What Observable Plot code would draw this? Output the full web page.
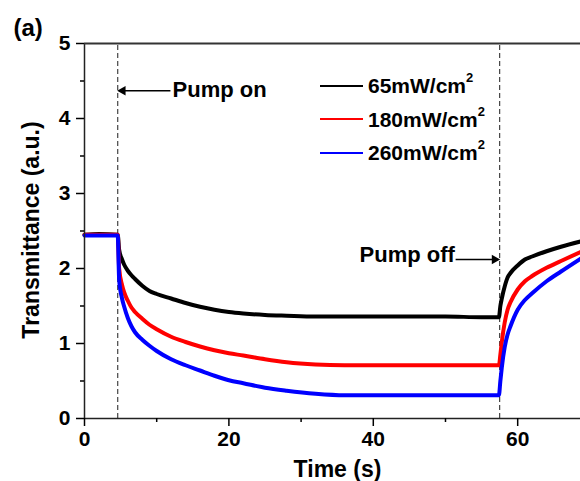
<!DOCTYPE html>
<html>
<head>
<meta charset="utf-8">
<script src="https://cdn.jsdelivr.net/npm/d3@7"></script>
<script src="https://cdn.jsdelivr.net/npm/@observablehq/plot@0.6"></script>
<style>
  html, body { margin: 0; padding: 0; background: #fff; }
  #wrap { position: relative; width: 580px; height: 481px; font-family: "Liberation Sans", Arial, sans-serif; }
  #legend { position: absolute; left: 320px; top: 69px; font-weight: bold; font-size: 21px; color: #000; }
  .row { display: flex; align-items: center; height: 33.5px; }
  .sw { width: 43px; height: 0; border-top: 2px solid; margin-right: 5px; }
  .row sup { font-size: 13px; position: relative; top: -3px; }
</style>
</head>
<body>
<div id="wrap"></div>
<script>
const seriesNames = ["65mW/cm2", "180mW/cm2", "260mW/cm2"];
const seriesLabels = ["65mW/cm", "180mW/cm", "260mW/cm"];
const seriesColors = ["#000000", "#ff0000", "#0000ff"];

const times = [0, 2, 4.6, 4.8, 5.2, 5.5, 6, 6.5, 7, 8, 9, 10, 12, 14, 16, 18, 20, 22, 25, 28, 32, 36, 40, 45, 50, 55, 57.4, 57.6, 57.8, 58.2, 58.6, 59, 60, 61, 62, 64, 66, 68.7];
const black = [2.45, 2.46, 2.45, 2.25, 2.12, 2.05, 1.97, 1.91, 1.86, 1.77, 1.70, 1.66, 1.60, 1.54, 1.49, 1.45, 1.42, 1.40, 1.38, 1.37, 1.36, 1.36, 1.36, 1.36, 1.36, 1.35, 1.35, 1.50, 1.60, 1.76, 1.88, 1.94, 2.04, 2.12, 2.16, 2.23, 2.29, 2.36];
const red   = [2.45, 2.45, 2.45, 2.00, 1.78, 1.68, 1.57, 1.48, 1.42, 1.33, 1.25, 1.19, 1.09, 1.02, 0.96, 0.91, 0.87, 0.84, 0.79, 0.75, 0.72, 0.71, 0.71, 0.71, 0.71, 0.71, 0.71, 0.85, 1.02, 1.28, 1.45, 1.55, 1.72, 1.83, 1.90, 2.01, 2.10, 2.22];
const blue  = [2.44, 2.44, 2.44, 1.85, 1.60, 1.49, 1.34, 1.23, 1.15, 1.05, 0.97, 0.90, 0.79, 0.71, 0.64, 0.57, 0.51, 0.47, 0.41, 0.37, 0.33, 0.31, 0.31, 0.31, 0.31, 0.31, 0.31, 0.50, 0.68, 0.95, 1.12, 1.23, 1.45, 1.58, 1.67, 1.83, 1.96, 2.13];

const xMajorTicks = [0, 20, 40, 60];
const xMinorTicks = [10, 30, 50];
const yMajorTicks = [0, 1, 2, 3, 4, 5];
const yMinorTicks = [0.5, 1.5, 2.5, 3.5, 4.5];

const pumpTimes = [4.6, 57.5];
const arrowShafts = [
  {x1: 11.9, x2: 4.8, y: 4.37},
  {x1: 51.4, x2: 57.2, y: 2.12}
];
const arrowHeads = [
  {x: 5.3, y: 4.37, rot: -90},
  {x: 56.8, y: 2.12, rot: 90}
];
const pumpOnLabel = [{x: 12.2, y: 4.38, text: "Pump on"}];
const pumpOffLabel = [{x: 51.3, y: 2.18, text: "Pump off"}];

const valuesBySeries = [black, red, blue];
const rows = [];
valuesBySeries.forEach((vals, i) => {
  times.forEach((t, j) => rows.push({t, v: vals[j], s: seriesNames[i]}));
});

const chart = Plot.plot({
  width: 580,
  height: 481,
  marginLeft: 84,
  marginRight: 0,
  marginTop: 43,
  marginBottom: 63,
  style: {fontFamily: "'Liberation Sans', Arial, sans-serif", fontWeight: "bold", fontSize: "21px", color: "#000", background: "#fff"},
  x: {domain: [0, 68.7]},
  y: {domain: [0, 5]},
  color: {domain: seriesNames, range: seriesColors},
  marks: [
    Plot.ruleX(pumpTimes, {y1: 0, y2: 5, stroke: "#444", strokeWidth: 1.2, strokeDasharray: "5,3"}),
    Plot.line(rows, {x: "t", y: "v", z: "s", stroke: "s", strokeWidth: 4, curve: "monotone-x"}),
    Plot.ruleX([0], {stroke: "#222", strokeWidth: 1.5}),
    Plot.ruleY([0], {stroke: "#222", strokeWidth: 1.5}),
    Plot.ruleY([5], {stroke: "#333", strokeWidth: 1.8}),
    Plot.axisX({ticks: xMajorTicks, tickSize: 8, tickPadding: 5, tickFormat: d3.format("d"), label: null, fontSize: 21, fontWeight: "bold", strokeWidth: 1.5}),
    Plot.axisX({ticks: xMinorTicks, tickSize: 4, text: null, label: null, strokeWidth: 1.5}),
    Plot.axisY({ticks: yMajorTicks, tickSize: 8, tickPadding: 6, tickFormat: d3.format("d"), label: null, fontSize: 21, fontWeight: "bold", strokeWidth: 1.5}),
    Plot.axisY({ticks: yMinorTicks, tickSize: 4, text: null, label: null, strokeWidth: 1.5}),
    Plot.link(arrowShafts, {x1: "x1", x2: "x2", y1: "y", y2: "y", stroke: "#000", strokeWidth: 1.3}),
    Plot.dot(arrowHeads, {x: "x", y: "y", symbol: "triangle", r: 3.6, fill: "#000", rotate: "rot"}),
    Plot.text(pumpOnLabel, {x: "x", y: "y", text: "text", textAnchor: "start", fontSize: 22, fontWeight: "bold", lineAnchor: "middle"}),
    Plot.text(pumpOffLabel, {x: "x", y: "y", text: "text", textAnchor: "end", fontSize: 22, fontWeight: "bold", lineAnchor: "middle"}),
    Plot.text(["Time (s)"], {frameAnchor: "bottom", dx: 5, dy: 51, lineAnchor: "middle", fontSize: 23, fontWeight: "bold"}),
    Plot.text(["Transmittance (a.u.)"], {frameAnchor: "left", textAnchor: "middle", rotate: -90, dx: -53, dy: -1, lineAnchor: "middle", fontSize: 23, fontWeight: "bold"}),
    Plot.text(["(a)"], {frameAnchor: "top-left", dx: -71, dy: -15, textAnchor: "start", lineAnchor: "middle", fontSize: 24, fontWeight: "bold"})
  ]
});

const wrap = document.getElementById("wrap");
wrap.appendChild(chart);
const legend = document.createElement("div");
legend.id = "legend";
seriesLabels.forEach((lab, i) => {
  const row = document.createElement("div");
  row.className = "row";
  const sw = document.createElement("div");
  sw.className = "sw";
  sw.style.borderTopColor = seriesColors[i];
  const txt = document.createElement("span");
  txt.innerHTML = lab + "<sup>2</sup>";
  row.appendChild(sw);
  row.appendChild(txt);
  legend.appendChild(row);
});
wrap.appendChild(legend);
</script>
</body>
</html>
